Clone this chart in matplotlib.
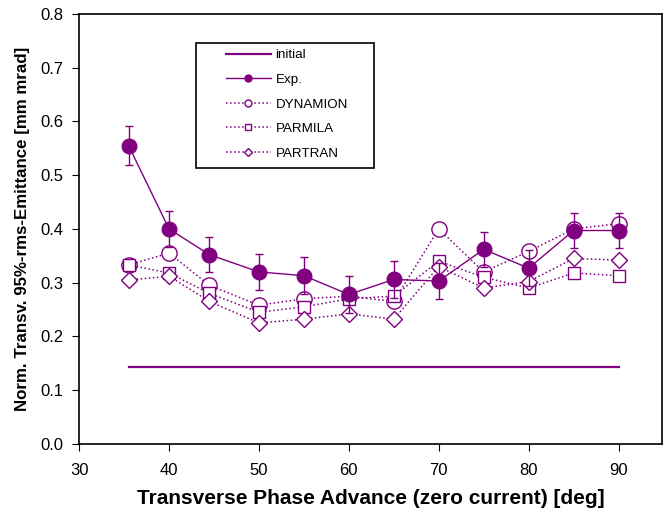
import matplotlib
matplotlib.use("Agg")
import matplotlib.pyplot as plt
from matplotlib.lines import Line2D
from matplotlib.patches import Rectangle

plt.rcParams['font.family'] = ['Liberation Sans', 'DejaVu Sans']

# phase advance [deg]
phase = [35.5, 40, 44.5, 50, 55, 60, 65, 70, 75, 80, 85, 90]
exp_vals = [0.555, 0.400, 0.352, 0.320, 0.313, 0.278, 0.306, 0.303, 0.362, 0.327, 0.397, 0.397]
exp_err = [0.037, 0.034, 0.033, 0.034, 0.035, 0.034, 0.035, 0.034, 0.033, 0.033, 0.033, 0.033]
dynamion = [0.333, 0.355, 0.295, 0.258, 0.270, 0.275, 0.265, 0.400, 0.320, 0.358, 0.400, 0.410]
parmila = [0.333, 0.318, 0.280, 0.245, 0.255, 0.270, 0.275, 0.340, 0.310, 0.290, 0.318, 0.313]
partran = [0.305, 0.312, 0.265, 0.225, 0.232, 0.242, 0.232, 0.330, 0.290, 0.302, 0.345, 0.342]
initial_x = [35.5, 90]
initial_y = [0.143, 0.143]

col = '#800080'

fig = plt.figure(figsize=(6.65, 5.15), dpi=100)
ax = fig.add_axes([0.119, 0.138, 0.876, 0.835])

ax.plot(initial_x, initial_y, color=col, lw=1.6)
ax.plot(phase, dynamion, color=col, ls=':', lw=1.1, marker='o', ms=11, mfc='white',
        mec=col, mew=1.0)
ax.plot(phase, parmila, color=col, ls=':', lw=1.1, marker='s', ms=8, mfc='white',
        mec=col, mew=1.0)
ax.plot(phase, partran, color=col, ls=':', lw=1.1, marker='D', ms=8, mfc='white',
        mec=col, mew=1.0)
ax.errorbar(phase, exp_vals, yerr=exp_err, color=col, lw=1.0, marker='o', ms=10.5,
            mfc=col, mec=col, capsize=3, elinewidth=1.0, zorder=5)

ax.set_xlim(30, 94.8)
ax.set_ylim(0, 0.8)
ax.set_xticks([30, 40, 50, 60, 70, 80, 90])
ax.set_yticks([i / 10 for i in range(9)])
ax.set_yticklabels([f'{i / 10:.1f}' for i in range(9)])
ax.tick_params(direction='out', labelsize=12, length=5)
ax.tick_params(axis='x', pad=9)
ax.tick_params(axis='y', pad=6)
for s in ax.spines.values():
    s.set_linewidth(1.2)

ax.set_xlabel('Transverse Phase Advance (zero current) [deg]', fontsize=15,
              fontweight='bold', labelpad=8)
ax.set_ylabel('Norm. Transv. 95%-rms-Emittance [mm mrad]', fontsize=12.2,
              fontweight='bold', labelpad=8)

# legend: proxy handles in the original order, frame drawn separately
handles = [
    Line2D([], [], color=col, lw=1.6),
    Line2D([], [], color=col, lw=1.0, marker='o', ms=5, mfc=col, mec=col),
    Line2D([], [], color=col, ls=':', lw=1.1, marker='o', ms=5, mfc='white', mec=col),
    Line2D([], [], color=col, ls=':', lw=1.1, marker='s', ms=5, mfc='white', mec=col),
    Line2D([], [], color=col, ls=':', lw=1.1, marker='D', ms=4.5, mfc='white', mec=col),
]
labels = ['initial', 'Exp.', 'DYNAMION', 'PARMILA', 'PARTRAN']
leg = ax.legend(handles, labels, loc='upper left', bbox_to_anchor=(0.248, 0.923),
                fontsize=9.6, frameon=False, handlelength=3.4, borderpad=0.15,
                labelspacing=0.92, handletextpad=0.35, borderaxespad=0)
ax.add_patch(Rectangle((0.2, 0.642), 0.307, 0.291, transform=ax.transAxes,
                       fill=False, ec='black', lw=1.2, zorder=6))

fig.savefig('out.png', dpi=100)
